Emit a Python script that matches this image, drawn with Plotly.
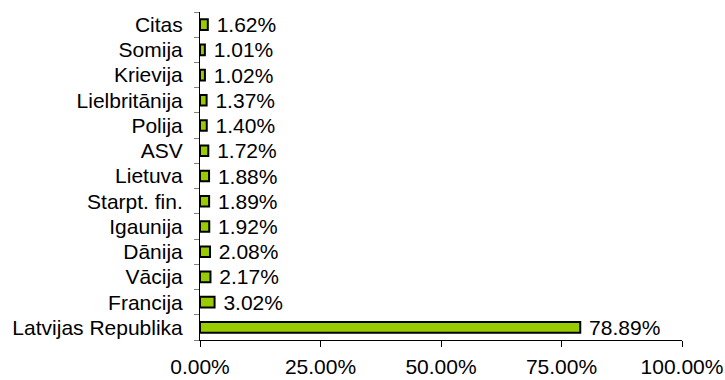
import plotly.graph_objects as go

categories = ["Latvijas Republika", "Francija", "Vācija", "Dānija", "Igaunija",
              "Starpt. fin.", "Lietuva", "ASV", "Polija", "Lielbritānija",
              "Krievija", "Somija", "Citas"]
values = [78.89, 3.02, 2.17, 2.08, 1.92, 1.89, 1.88, 1.72, 1.40, 1.37, 1.02, 1.01, 1.62]
x_ticks = [0, 25, 50, 75, 100]
x_tick_labels = ["0.00%", "25.00%", "50.00%", "75.00%", "100.00%"]

FONT = "Liberation Sans, Arial"

fig = go.Figure(go.Bar(
    y=categories, x=values, orientation="h",
    marker=dict(color="#99CC00", line=dict(color="black", width=2)),
    width=0.42,
    text=[f" {v:.2f}%" for v in values],
    textposition="outside",
    constraintext="none",
    textfont=dict(family=FONT, size=21, color="black"),
    cliponaxis=False,
))

fig.update_layout(
    width=725, height=380,
    margin=dict(l=200, r=43, t=12, b=40),
    plot_bgcolor="white", paper_bgcolor="white",
    font=dict(family=FONT, size=21, color="black"),
    showlegend=False,
    xaxis=dict(range=[0, 100], tickvals=x_ticks, ticktext=x_tick_labels,
               showgrid=False, zeroline=False, showline=True, linecolor="black",
               linewidth=1, ticks="outside", ticklen=6, tickcolor="black",
               ticklabelstandoff=2, automargin=False),
    yaxis=dict(categoryorder="array", categoryarray=categories,
               showgrid=False, zeroline=False, showline=True, linecolor="black",
               linewidth=1, ticks="outside", ticklen=5, tickcolor="gray",
               tickson="boundaries", ticklabelstandoff=12, automargin=False,
               range=[-0.5, len(categories) - 0.5]),
)

fig.write_html("out.html")
